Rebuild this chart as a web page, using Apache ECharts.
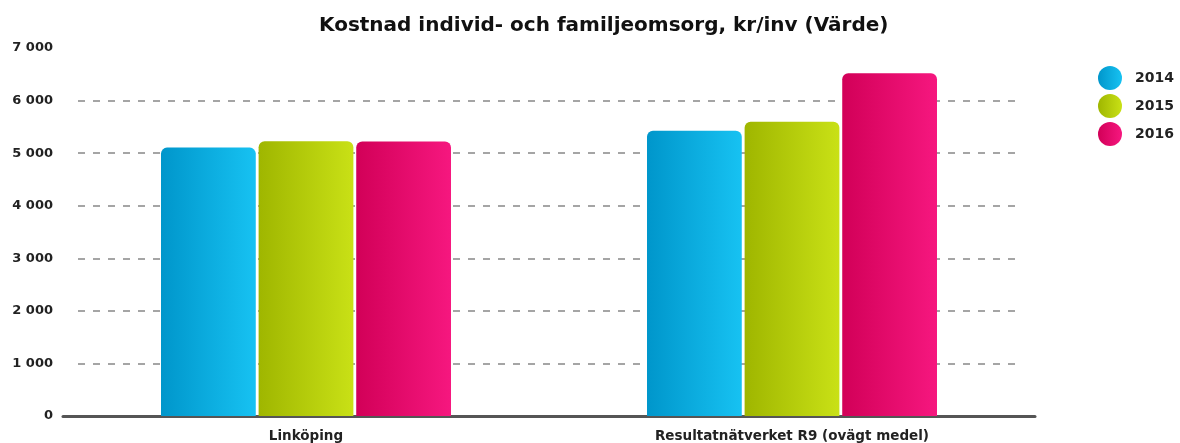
<!DOCTYPE html>
<html>
<head>
<meta charset="utf-8">
<script src="https://cdn.jsdelivr.net/npm/echarts@6/dist/echarts.min.js"></script>
<style>
  html, body { margin: 0; padding: 0; background: #fff; }
  #chart { width: 1180px; height: 443px; }
</style>
</head>
<body>
<div id="chart"></div>
<script>
// data
const categories = ['Linköping', 'Resultatnätverket R9 (ovägt medel)']
const years = ['2014', '2015', '2016']
const v2014 = [5105, 5425]
const v2015 = [5225, 5595]
const v2016 = [5220, 6520]
const yTicks = [0, 1000, 2000, 3000, 4000, 5000, 6000, 7000]

const grads = [
  ['#0096cb', '#17c2f2'],
  ['#9fb600', '#c9e116'],
  ['#d20058', '#f6177f']
]

const grad = (c) => new echarts.graphic.LinearGradient(0, 0, 1, 0, [
  { offset: 0, color: c[0] },
  { offset: 1, color: c[1] }
])

const font = 'Verdana, "DejaVu Sans", sans-serif'

const chart = echarts.init(document.getElementById('chart'))

const makeSeries = (name, data, i) => ({
  name: name,
  type: 'bar',
  data: data,
  barWidth: '19.5%',
  barGap: '3%',
  itemStyle: {
    color: grad(grads[i]),
    borderRadius: [6, 6, 0, 0]
  }
})

chart.setOption({
  animation: false,
  title: {
    text: 'Kostnad individ- och familjeomsorg, kr/inv (Värde)',
    left: 314,
    top: 11,
    textStyle: { fontFamily: font, fontSize: 20, fontWeight: 'bold', color: '#111' }
  },
  legend: {
    orient: 'vertical',
    left: 1093,
    top: 61,
    icon: 'circle',
    itemWidth: 24,
    itemHeight: 24,
    itemGap: 4,
    textStyle: { fontFamily: font, fontSize: 14, fontWeight: 'bold', color: '#222', padding: [0, 0, 0, 8] },
    data: years
  },
  grid: [
    { left: 63, right: 145, top: 48, bottom: 27 },
    { left: 78, right: 160, top: 48, bottom: 27 }
  ],
  xAxis: [
    {
      type: 'category',
      gridIndex: 0,
      data: categories,
      axisLine: { lineStyle: { color: '#555', width: 3 } },
      axisTick: { alignWithLabel: true, length: 5, lineStyle: { color: '#555' } },
      axisLabel: { fontFamily: font, fontSize: 13.5, fontWeight: 'bold', color: '#222', margin: 13 }
    },
    { type: 'category', gridIndex: 1, data: categories, show: false }
  ],
  yAxis: [
    {
      type: 'value',
      gridIndex: 0,
      min: 0,
      max: 7000,
      interval: 1000,
      axisLine: { show: false },
      axisTick: { show: false },
      splitLine: { show: false },
      axisLabel: {
        fontFamily: font, fontSize: 13, fontWeight: 'bold', color: '#222', margin: 10,
        formatter: (v) => yTicks.includes(v) ? String(v).replace(/\B(?=(\d{3})+(?!\d))/g, ' ') : ''
      }
    },
    {
      type: 'value',
      gridIndex: 1,
      min: 0,
      max: 7000,
      interval: 1000,
      axisLine: { show: false },
      axisTick: { show: false },
      axisLabel: { show: false },
      splitLine: {
        showMinLine: false,
        showMaxLine: false,
        lineStyle: { color: '#888', width: 1.5, type: [7, 8] }
      }
    }
  ],
  series: [
    makeSeries(years[0], v2014, 0),
    makeSeries(years[1], v2015, 1),
    makeSeries(years[2], v2016, 2)
  ]
})
</script>
</body>
</html>
